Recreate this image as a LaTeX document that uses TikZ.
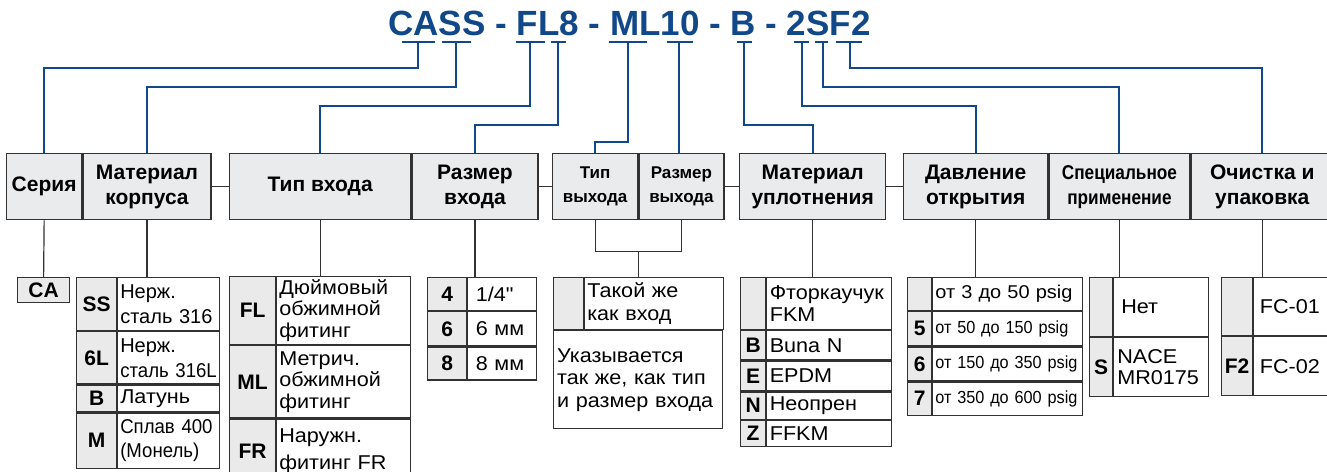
\documentclass[tikz,border=0pt]{standalone}
\usepackage{fontspec}
\setmainfont{Liberation Sans}
\newfontfamily\entryfont[FakeStretch=1.08,Ligatures=TeXOff]{Liberation Sans}
\newfontfamily\narrowfont[FakeStretch=0.93]{Liberation Sans}
\newfontfamily\headnarrow[FakeStretch=0.86]{Liberation Sans}
\usetikzlibrary{positioning,calc}
\definecolor{codeblue}{RGB}{16,72,138}
\definecolor{boxgray}{RGB}{50,50,50}
\definecolor{headgray}{RGB}{234,235,237}
\definecolor{cellgray}{RGB}{234,234,234}

\begin{document}
\begin{tikzpicture}[
 x=1pt,y=-1pt,
 head/.style={draw=boxgray,fill=headgray,line width=1.3pt,anchor=north west,inner sep=0pt,
   minimum height=66,align=center,font=\bfseries\fontsize{21}{25}\selectfont},
 cell/.style={draw=boxgray,line width=1.2pt,anchor=north west,inner sep=0pt},
 code/.style={cell,fill=cellgray,font=\bfseries\fontsize{21}{22}\selectfont},
 entry/.style={cell,fill=white,align=left,font=\entryfont\fontsize{20}{21.5}\selectfont},
 slim/.style={font=\narrowfont\fontsize{20}{24}\selectfont},
 link/.style={draw=codeblue,line width=2pt},
 tie/.style={draw=boxgray,line width=1.2pt}
]
\clip (0,0) rectangle (1327,471);
\fill[white] (0,0) rectangle (1327,471);

% ordering code
\node[anchor=base,text=codeblue,font=\bfseries\fontsize{35}{35}\selectfont] (title) at (629.5,35) {CASS - FL8 - ML10 - B - 2SF2};
\foreach \a/\b in {402/435,442/471,516/545,551/566,609/647,667/693,737/752,794/809,815/828,836/862}
  \draw[link] (\a,42) -- (\b,42);
\coordinate (uCA) at (418,42);
\coordinate (uSS) at (456,42);
\coordinate (uFL) at (530,42);
\coordinate (u8) at (558,42);
\coordinate (uML) at (628,42);
\coordinate (u10) at (679,42);
\coordinate (uB) at (744,42);
\coordinate (u2) at (802,42);
\coordinate (uS) at (823,42);
\coordinate (uF2) at (850,42);

% header boxes
\node[head,minimum width=75] (ser) at (6,153) {Серия};
\node[head,minimum width=128] (mat) at (ser.north east) {Материал\\корпуса};
\node[head,minimum width=181] (typ) at (229,153) {Тип входа};
\node[head,minimum width=126] (siz) at (typ.north east) {Размер\\входа};
\node[head,minimum width=85,font=\bfseries\fontsize{17}{24}\selectfont] (otp) at (552,153) {Тип\\выхода};
\node[head,minimum width=85,font=\bfseries\fontsize{17}{24}\selectfont] (osz) at (otp.north east) {Размер\\выхода};
\node[head,minimum width=146] (sea) at (739,153) {Материал\\уплотнения};
\node[head,minimum width=144] (pre) at (903,153) {Давление\\открытия};
\node[head,minimum width=141,font=\headnarrow\bfseries\fontsize{20}{25}\selectfont] (spe) at (pre.north east) {Специальное\\применение};
\node[head,minimum width=142] (cln) at (spe.north east) {Очистка и\\упаковка};

\draw[tie] (mat.east) -- (typ.west);
\draw[tie] (siz.east) -- (otp.west);
\draw[tie] (osz.east) -- (sea.west);
\draw[tie] (sea.east) -- (pre.west);

% code to header
\draw[link] (uCA) -- ++(0,26) -| (ser.north);
\draw[link] (uSS) -- ++(0,45) -| (mat.north);
\draw[link] (uFL) -- ++(0,64) -| (typ.north);
\draw[link] (u8) -- ++(0,83) -| (siz.north);
\draw[link] (uML) -- ++(0,100) -| (otp.north);
\draw[link] (u10) -- (u10 |- osz.north);
\draw[link] (uB) -- ++(0,83) -| (sea.north);
\draw[link] (u2) -- ++(0,64) -| (pre.north);
\draw[link] (uS) -- ++(0,45) -| (spe.north);
\draw[link] (uF2) -- ++(0,26) -| (cln.north);

% series
\node[code,minimum width=52,minimum height=25] (cCA) at (17,277) {CA};

% body material
\node[code,minimum width=40,minimum height=53] (cSS) at (76,277) {SS};
\node[entry,minimum width=102,minimum height=53,text width=97,font=\fontsize{20}{25}\selectfont] (tSS) at (cSS.north east) {Нерж.\\\mbox{сталь 316}};
\node[code,minimum width=40,minimum height=52] (c6L) at (cSS.south west) {6L};
\node[entry,minimum width=102,minimum height=52,text width=97,font=\fontsize{20}{25}\selectfont] (t6L) at (c6L.north east) {Нерж.\\\mbox{\narrowfont сталь 316L}};
\node[code,minimum width=40,minimum height=27] (cB1) at (c6L.south west) {B};
\node[entry,minimum width=102,minimum height=27,text width=97] (tB1) at (cB1.north east) {Латунь};
\node[code,minimum width=40,minimum height=55] (cM) at (cB1.south west) {M};
\node[entry,minimum width=102,minimum height=55,text width=97,slim] (tM) at (cM.north east) {\mbox{Сплав 400}\\(Монель)};

% inlet type
\node[code,minimum width=46,minimum height=68] (cFL) at (229,276) {FL};
\node[entry,minimum width=134,minimum height=68,text width=129] (tFL) at (cFL.north east) {Дюймовый\\обжимной\\фитинг};
\node[code,minimum width=46,minimum height=72] (cML) at (cFL.south west) {ML};
\node[entry,minimum width=134,minimum height=72,text width=129] (tML) at (cML.north east) {Метрич.\\обжимной\\фитинг};
\node[code,minimum width=46,minimum height=64] (cFR) at (cML.south west) {FR};
\node[entry,minimum width=134,minimum height=64,text width=129,font=\entryfont\fontsize{20}{27}\selectfont] (tFR) at (cFR.north east) {Наружн.\\фитинг FR\\[4pt]};

% inlet size
\node[code,minimum width=39,minimum height=33] (c4) at (427,277) {4};
\node[entry,minimum width=69,minimum height=33,text width=53] (t4) at (c4.north east) {1/4"};
\node[code,minimum width=39,minimum height=34] (c6) at (c4.south west) {6};
\node[entry,minimum width=69,minimum height=34,text width=53] (t6) at (c6.north east) {6 мм};
\node[code,minimum width=39,minimum height=33] (c8) at (c6.south west) {8};
\node[entry,minimum width=69,minimum height=33,text width=53] (t8) at (c8.north east) {8 мм};

% outlet
\node[code,minimum width=30,minimum height=52] (cSame) at (553,277) {};
\node[entry,minimum width=139,minimum height=52,text width=134,font=\entryfont\fontsize{20}{23}\selectfont] (tSame) at (cSame.north east) {Такой же\\как вход};
\node[entry,minimum width=169,minimum height=98,text width=162,font=\entryfont\fontsize{20}{22.5}\selectfont] (tAsIn) at (cSame.south west) {Указывается\\так же, как тип\\и размер входа\\[2pt]};

% seal material
\node[code,minimum width=25,minimum height=52] (cFKM) at (740,277) {};
\node[entry,minimum width=125,minimum height=52,text width=119] (tFKM) at (cFKM.north east) {Фторкаучук\\FKM};
\node[code,minimum width=25,minimum height=29] (cB2) at (cFKM.south west) {B};
\node[entry,minimum width=125,minimum height=29,text width=119] (tB2) at (cB2.north east) {Buna N};
\node[code,minimum width=25,minimum height=30] (cE) at (cB2.south west) {E};
\node[entry,minimum width=125,minimum height=30,text width=119] (tE) at (cE.north east) {EPDM};
\node[code,minimum width=25,minimum height=27] (cN) at (cE.south west) {N};
\node[entry,minimum width=125,minimum height=27,text width=119] (tN) at (cN.north east) {Неопрен};
\node[code,minimum width=25,minimum height=26] (cZ) at (cN.south west) {Z};
\node[entry,minimum width=125,minimum height=26,text width=119] (tZ) at (cZ.north east) {FFKM};

% cracking pressure
\node[code,minimum width=24,minimum height=33] (cP3) at (907,277) {};
\node[entry,minimum width=150,minimum height=33,text width=145,font=\entryfont\fontsize{18.5}{21}\selectfont] (tP3) at (cP3.north east) {\mbox{от 3 до 50 psig}};
\node[code,minimum width=24,minimum height=34] (c5) at (cP3.south west) {5};
\node[entry,minimum width=150,minimum height=34,text width=145,font=\narrowfont\fontsize{17.5}{21}\selectfont] (t5) at (c5.north east) {\mbox{от 50 до 150 psig}};
\node[code,minimum width=24,minimum height=34] (c6p) at (c5.south west) {6};
\node[entry,minimum width=150,minimum height=34,text width=145,font=\narrowfont\fontsize{17.5}{21}\selectfont] (t6p) at (c6p.north east) {\mbox{от 150 до 350 psig}};
\node[code,minimum width=24,minimum height=33] (c7) at (c6p.south west) {7};
\node[entry,minimum width=150,minimum height=33,text width=145,font=\narrowfont\fontsize{17.5}{21}\selectfont] (t7) at (c7.north east) {\mbox{от 350 до 600 psig}};

% special application
\node[code,minimum width=23,minimum height=59] (cNone) at (1089,277) {};
\node[entry,minimum width=95,minimum height=59,text width=80] (tNone) at (cNone.north east) {Нет};
\node[code,minimum width=23,minimum height=59] (cS) at (cNone.south west) {S};
\node[entry,minimum width=95,minimum height=59,text width=88] (tS) at (cS.north east) {NACE\\MR0175};

% cleaning
\node[code,minimum width=31,minimum height=58] (cF1) at (1221,277) {};
\node[entry,minimum width=80,minimum height=58,text width=68] (tF1) at (cF1.north east) {FC-01};
\node[code,minimum width=31,minimum height=59] (cF2) at (cF1.south west) {F2};
\node[entry,minimum width=80,minimum height=59,text width=68] (tF2) at (cF2.north east) {FC-02};

% header to table
\draw[tie] (ser.south) -- (cCA.north);
\draw[tie] (mat.south) -- (mat.south |- tSS.north);
\draw[tie] (typ.south) -- (typ.south |- tFL.north);
\draw[tie] (siz.south) -- (siz.south |- t4.north);
\draw[tie] (otp.south) -- ++(0,31) -| (osz.south);
\coordinate (ojoin) at ($(otp.south east)+(0,31)$);
\draw[tie] (ojoin) -- (ojoin |- tSame.north);
\draw[tie] (sea.south) -- (sea.south |- tFKM.north);
\draw[tie] (pre.south) -- (pre.south |- tP3.north);
\draw[tie] (spe.south) -- (spe.south |- tNone.north);
\draw[tie] (cln.south) -- (cln.south |- tF1.north);
\end{tikzpicture}
\end{document}
